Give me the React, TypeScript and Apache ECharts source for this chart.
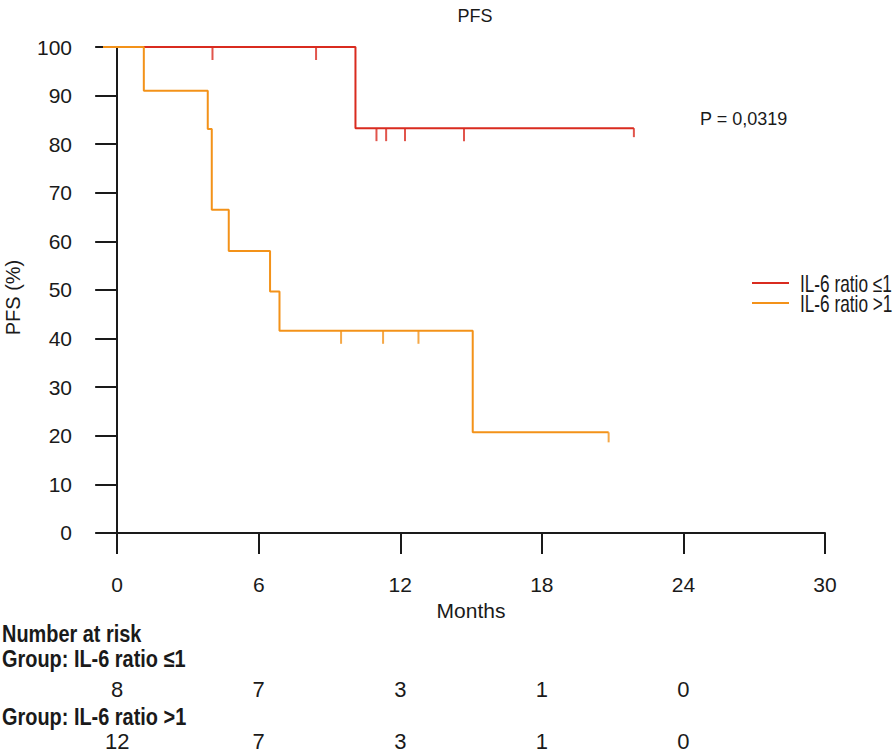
import React, { useEffect, useRef } from "react";
import * as echarts from "echarts";

// ---- data ----
const xTicks = [0, 6, 12, 18, 24, 30];
const yTicks = [0, 10, 20, 30, 40, 50, 60, 70, 80, 90, 100];
const X_MIN = -0.6;
const X_MAX = 30;
const Y_MIN = -3.1;
const Y_MAX = 100;

const groupNames = ["IL-6 ratio ≤1", "IL-6 ratio >1"];

const lowTimes = [X_MIN, 10.1, 21.9];
const lowSurv = [100, 83.3, 83.3];
const lowCensorTimes = [4.04, 8.43, 10.99, 11.4, 12.2, 14.7];
const lowCensorSurv = [100, 100, 83.3, 83.3, 83.3, 83.3];

const highTimes = [X_MIN, 1.13, 3.84, 4.01, 4.73, 6.48, 6.88, 15.07, 20.83];
const highSurv = [100, 91.0, 83.1, 66.5, 58.0, 49.7, 41.6, 20.7, 20.7];
const highCensorTimes = [9.49, 11.27, 12.77];
const highCensorSurv = [41.6, 41.6, 41.6];

const riskTimes = [0, 6, 12, 18, 24];
const riskLow = [8, 7, 3, 1, 0];
const riskHigh = [12, 7, 3, 1, 0];

const pValueText = "P = 0,0319";

// ---- styles ----
const RED = "#D92B1F";
const ORANGE = "#F39219";
const INK = "#1a1a1a";
const SANS = "'Liberation Sans', Arial, sans-serif";

const zip = (a: number[], b: number[]) => a.map((v, i) => [v, b[i]]);

export default function App() {
  const ref = useRef<HTMLDivElement>(null);

  useEffect(() => {
    if (!ref.current) return;
    const chart = echarts.init(ref.current, undefined, { renderer: "svg" });

    const censorSeries = (name: string, data: number[][], color: string, len: number) => ({
      type: "scatter",
      name,
      xAxisIndex: 0,
      yAxisIndex: 0,
      data,
      symbol: "rect",
      symbolSize: [2, len],
      symbolOffset: [0, len / 2],
      itemStyle: { color },
      silent: true,
      z: 3,
    });

    const lowLine = zip(lowTimes, lowSurv);
    const highLine = zip(highTimes, highSurv);

    const narrowText = (text: string, x: number, y: number, size: number, sx: number, bold: boolean) => ({
      type: "text",
      x,
      y,
      scaleX: sx,
      silent: true,
      style: {
        text,
        fontFamily: SANS,
        fontSize: size,
        fontWeight: bold ? "bold" : "normal",
        fill: INK,
        align: "left",
        verticalAlign: "middle",
      },
    });

    const legendColors = [RED, ORANGE];
    const legendGraphics = groupNames.flatMap((name, i) => [
      {
        type: "line",
        silent: true,
        shape: { x1: 752, y1: 283 + i * 20, x2: 789, y2: 283 + i * 20 },
        style: { stroke: legendColors[i], lineWidth: 2 },
      },
      narrowText(name, 800, 284 + i * 20, 23, 0.75, false),
    ]);

    chart.setOption({
      animation: false,
      title: {
        text: "PFS",
        left: 470,
        top: 2,
        textAlign: "center",
        textStyle: { fontFamily: SANS, fontSize: 18, fontWeight: "normal", color: INK },
      },
      grid: [
        { left: 103, right: 71, top: 47, bottom: 206, outerBoundsMode: "none", containLabel: false },
        { left: 103, right: 71, top: 689, height: 52, outerBoundsMode: "none", containLabel: false },
      ],
      xAxis: [
        {
          type: "value",
          gridIndex: 0,
          min: X_MIN,
          max: X_MAX,
          splitLine: { show: false },
          axisLine: { show: true, lineStyle: { color: INK, width: 2 } },
          axisTick: { show: true, length: 21, customValues: xTicks, lineStyle: { color: INK, width: 2 } },
          axisLabel: { customValues: xTicks, margin: 26, fontFamily: SANS, fontSize: 21, color: INK },
          name: "Months",
          nameLocation: "middle",
          nameGap: 51,
          nameTextStyle: { fontFamily: SANS, fontSize: 21, color: INK, padding: [0, 0, 0, 14] },
        },
        { type: "value", gridIndex: 1, min: X_MIN, max: X_MAX, show: false },
      ],
      yAxis: [
        {
          type: "value",
          gridIndex: 0,
          min: Y_MIN,
          max: Y_MAX,
          splitLine: { show: false },
          axisLine: { show: true, lineStyle: { color: INK, width: 2 } },
          axisTick: { show: true, length: 22, customValues: yTicks, lineStyle: { color: INK, width: 2 } },
          axisLabel: { customValues: yTicks, margin: 31, fontFamily: SANS, fontSize: 21, color: INK },
          name: "PFS (%)",
          nameLocation: "middle",
          nameGap: 80,
          nameTextStyle: { fontFamily: SANS, fontSize: 20, color: INK },
        },
        { type: "value", gridIndex: 1, min: 0, max: 1, show: false },
      ],
      graphic: [
        { type: "text", left: 700, top: 110, silent: true, style: { text: pValueText, fontFamily: SANS, fontSize: 18, fill: INK } },
        narrowText("Number at risk", 2, 634, 24, 0.83, true),
        narrowText("Group: " + groupNames[0], 2, 659, 24, 0.83, true),
        narrowText("Group: " + groupNames[1], 2, 717, 24, 0.83, true),
        ...legendGraphics,
      ],
      series: [
        {
          type: "line",
          name: groupNames[0],
          data: lowLine,
          step: "end",
          showSymbol: false,
          symbol: "none",
          color: RED,
          lineStyle: { color: RED, width: 2 },
          z: 4,
        },
        {
          type: "line",
          name: groupNames[1],
          data: highLine,
          step: "end",
          showSymbol: false,
          symbol: "none",
          color: ORANGE,
          lineStyle: { color: ORANGE, width: 2 },
          z: 4,
        },
        censorSeries("censor-low", zip(lowCensorTimes, lowCensorSurv), RED, 13),
        censorSeries("censor-high", zip(highCensorTimes, highCensorSurv), ORANGE, 13),
        censorSeries("end-low", [lowLine[lowLine.length - 1]], RED, 9),
        censorSeries("end-high", [highLine[highLine.length - 1]], ORANGE, 10),
        {
          type: "scatter",
          name: "risk",
          xAxisIndex: 1,
          yAxisIndex: 1,
          symbol: "circle",
          symbolSize: 0,
          itemStyle: { color: INK },
          silent: true,
          data: [
            ...riskTimes.map((t, i) => [t, 1, riskLow[i]]),
            ...riskTimes.map((t, i) => [t, 0, riskHigh[i]]),
          ],
          label: {
            show: true,
            position: "inside",
            formatter: (p: any) => String(p.value[2]),
            fontFamily: SANS,
            fontSize: 22,
            lineHeight: 18,
            color: INK,
            opacity: 1,
          },
        },
      ],
    });

    return () => chart.dispose();
  }, []);

  return (
    <div
      ref={ref}
      style={{ position: "fixed", left: 0, top: 0, width: 896, height: 754, background: "#fff" }}
    />
  );
}
